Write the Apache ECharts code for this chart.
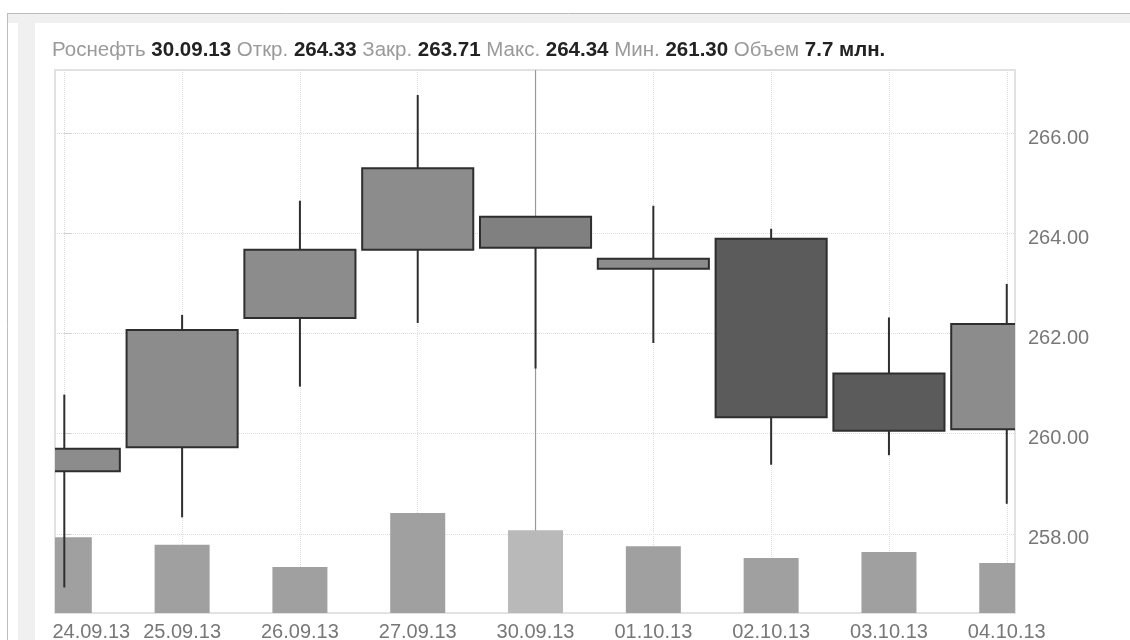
<!DOCTYPE html>
<html>
<head>
<meta charset="utf-8">
<title>Роснефть</title>
<script src="https://cdn.jsdelivr.net/npm/echarts@6/dist/echarts.min.js"></script>
<style>
  html, body { margin: 0; padding: 0; background: #fff; }
  #chart { width: 1130px; height: 640px; }
</style>
</head>
<body>
<div id="chart"></div>
<script>
// Daily quotes, Роснефть
const dates   = ['24.09.13', '25.09.13', '26.09.13', '27.09.13', '30.09.13', '01.10.13', '02.10.13', '03.10.13', '04.10.13'];
const opens   = [259.25, 259.73, 262.31, 263.67, 264.33, 263.29, 263.89, 261.20, 260.09];
const closes  = [259.70, 262.07, 263.67, 265.30, 263.71, 263.49, 260.33, 260.06, 262.19];
const lows    = [256.93, 258.33, 260.94, 262.21, 261.30, 261.81, 259.38, 259.57, 258.60];
const highs   = [260.78, 262.37, 264.65, 266.76, 264.34, 264.55, 264.09, 262.32, 262.99];
const volumes = [7.05, 6.37, 4.29, 9.32, 7.7, 6.21, 5.13, 5.69, 4.66]; // млн.
const priceTicks = [258, 260, 262, 264, 266];
const ticker = 'Роснефть';
const selectedDate = '30.09.13';

const sel = dates.indexOf(selectedDate);
const FONT = '"Liberation Sans", Arial, sans-serif';

const candleData = dates.map((d, i) => [i, opens[i], closes[i], lows[i], highs[i]]);
const volumeData = dates.map((d, i) => [i, volumes[i]]);

const headerText =
  '{l|' + ticker + '} {v|' + dates[sel] + '} ' +
  '{l|Откр.} {v|' + opens[sel].toFixed(2) + '} ' +
  '{l|Закр.} {v|' + closes[sel].toFixed(2) + '} ' +
  '{l|Макс.} {v|' + highs[sel].toFixed(2) + '} ' +
  '{l|Мин.} {v|' + lows[sel].toFixed(2) + '} ' +
  '{l|Объем} {v|' + volumes[sel].toFixed(1) + ' млн.}';

// candle: body + upper/lower wick, width as a share of one day's slot
function renderCandle(params, api) {
  const x = api.value(0);
  const o = api.value(1), c = api.value(2), lo = api.value(3), hi = api.value(4);
  const slot = api.size([1, 0])[0];
  const w = slot * 0.943;
  const pO = api.coord([x, o]);
  const pC = api.coord([x, c]);
  const pL = api.coord([x, lo]);
  const pH = api.coord([x, hi]);
  const cx = pO[0];
  const top = Math.min(pO[1], pC[1]);
  const bottom = Math.max(pO[1], pC[1]);
  let fill = c >= o ? '#8c8c8c' : '#5b5b5b';
  if (params.dataIndex === sel) fill = '#808080';
  const stroke = '#2e2e2e';
  return {
    type: 'group',
    children: [
      { type: 'line', shape: { x1: cx, y1: pH[1], x2: cx, y2: top }, style: { stroke: stroke, lineWidth: 2 } },
      { type: 'line', shape: { x1: cx, y1: bottom, x2: cx, y2: pL[1] }, style: { stroke: stroke, lineWidth: 2 } },
      { type: 'rect', shape: { x: cx - w / 2, y: top, width: w, height: Math.max(bottom - top, 1) },
        style: { fill: fill, stroke: stroke, lineWidth: 2 } }
    ]
  };
}

// volume column
function renderVolume(params, api) {
  const x = api.value(0);
  const slot = api.size([1, 0])[0];
  const w = slot * 0.467;
  const pTop = api.coord([x, api.value(1)]);
  const pBase = api.coord([x, 0]);
  const cs = params.coordSys;
  const rect = echarts.graphic.clipRectByRect(
    { x: pTop[0] - w / 2, y: pTop[1], width: w, height: pBase[1] - pTop[1] },
    { x: cs.x, y: cs.y, width: cs.width, height: cs.height }
  );
  if (!rect) return null;
  return {
    type: 'rect',
    shape: rect,
    style: { fill: params.dataIndex === sel ? '#b9b9b9' : '#a0a0a0' }
  };
}

// vertical cursor line through the selected day
function renderCursor(params, api) {
  const cs = params.coordSys;
  const px = api.coord([api.value(0), 0])[0];
  return {
    type: 'line',
    shape: { x1: px, y1: cs.y, x2: px, y2: cs.y + cs.height },
    style: { stroke: '#999', lineWidth: 1.2 }
  };
}

const chart = echarts.init(document.getElementById('chart'), null, { renderer: 'canvas' });

chart.setOption({
  animation: false,
  backgroundColor: '#fff',
  textStyle: { fontFamily: FONT },
  graphic: [
    // outer panel frame
    { type: 'rect', z: -10, silent: true, shape: { x: 8, y: 14, width: 1122, height: 9 }, style: { fill: '#f0f0f0' } },
    { type: 'rect', z: -10, silent: true, shape: { x: 18, y: 23, width: 17, height: 617 }, style: { fill: '#f0f0f0' } },
    { type: 'line', z: -9, silent: true, shape: { x1: 7.5, y1: 13, x2: 7.5, y2: 640 }, style: { stroke: '#bdbdbd', lineWidth: 1 } },
    { type: 'line', z: -9, silent: true, shape: { x1: 7, y1: 13.5, x2: 1130, y2: 13.5 }, style: { stroke: '#bdbdbd', lineWidth: 1 } }
  ],
  title: {
    left: 52,
    top: 40,
    padding: 0,
    text: headerText,
    textStyle: {
      fontSize: 20.5,
      fontWeight: 'normal',
      color: '#999',
      fontFamily: FONT,
      rich: {
        l: { fontSize: 20.5, color: '#9a9a9a', fontFamily: FONT },
        v: { fontSize: 20.5, color: '#222', fontWeight: 'bold', fontFamily: FONT }
      }
    }
  },
  grid: {
    left: 55, right: 115, top: 70, bottom: 27,
    outerBoundsMode: 'none',
    containLabel: false,
    show: true,
    borderColor: '#e2e2e2',
    borderWidth: 2,
    backgroundColor: 'transparent'
  },
  xAxis: {
    type: 'value',
    min: -0.079,
    max: 8.07,
    axisLine: { show: false },
    axisTick: { show: false, customValues: dates.map((d, i) => i) },
    splitLine: { show: true, lineStyle: { color: '#dcdcdc', type: 'dotted', width: 1 } },
    axisLabel: {
      customValues: dates.map((d, i) => i),
      margin: 9,
      fontSize: 20,
      color: '#777',
      fontFamily: FONT,
      formatter: v => (v === 0 ? '{first|' + dates[v] + '}' : dates[v]),
      rich: {
        first: { fontSize: 20, color: '#777', fontFamily: FONT, padding: [0, 0, 0, 54] }
      }
    }
  },
  yAxis: [
    {
      type: 'value',
      position: 'right',
      min: 256.42,
      max: 267.26,
      scale: true,
      axisLine: { show: false },
      axisTick: { show: true, length: 7, customValues: priceTicks, lineStyle: { color: '#d0d0d0' } },
      splitLine: { show: true, lineStyle: { color: '#dcdcdc', type: 'dotted', width: 1 } },
      axisLabel: {
        customValues: priceTicks,
        margin: 13,
        fontSize: 20,
        color: '#777',
        fontFamily: FONT,
        verticalAlign: 'top',
        lineHeight: 10,
        formatter: v => v.toFixed(2)
      }
    },
    {
      type: 'value',
      min: 0,
      max: 50.6,
      show: false,
      splitLine: { show: false }
    }
  ],
  series: [
    {
      name: 'cursor',
      type: 'custom',
      xAxisIndex: 0,
      yAxisIndex: 1,
      z: 1,
      silent: true,
      clip: true,
      renderItem: renderCursor,
      encode: { x: 0, y: 1 },
      data: [[sel, 0]]
    },
    {
      name: 'Объем',
      type: 'custom',
      xAxisIndex: 0,
      yAxisIndex: 1,
      z: 2,
      clip: true,
      renderItem: renderVolume,
      encode: { x: 0, y: 1 },
      data: volumeData
    },
    {
      name: ticker,
      type: 'custom',
      xAxisIndex: 0,
      yAxisIndex: 0,
      z: 3,
      clip: true,
      renderItem: renderCandle,
      encode: { x: 0, y: [1, 2, 3, 4] },
      data: candleData
    }
  ]
});
</script>
</body>
</html>
